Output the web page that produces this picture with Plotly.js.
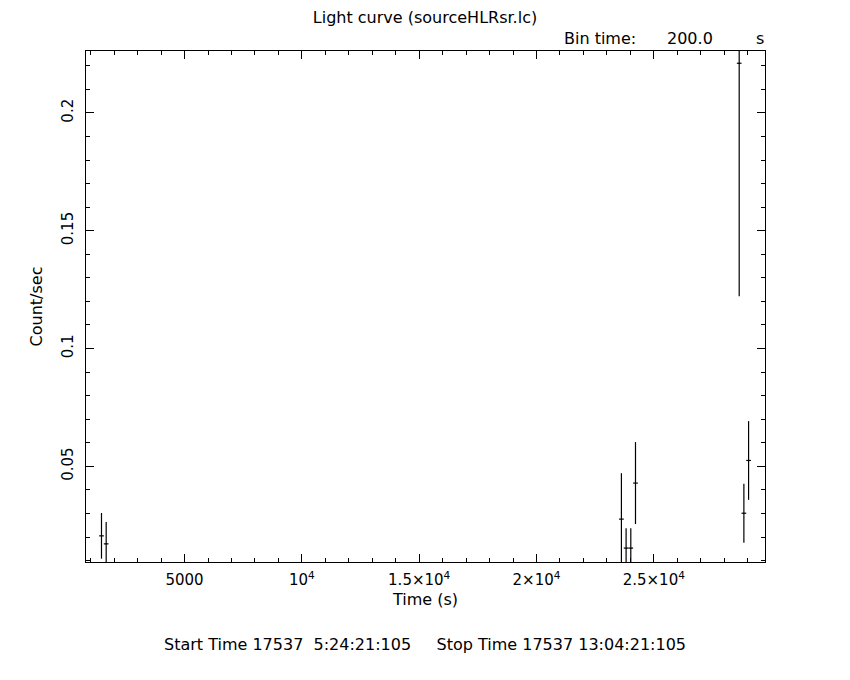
<!DOCTYPE html>
<html>
<head>
<meta charset="utf-8">
<script src="https://cdn.plot.ly/plotly-3.0.1.min.js"></script>
<style>body{margin:0;padding:0;background:#fff;}#chart{width:850px;height:680px;}</style>
</head>
<body>
<div id="chart"></div>
<script>
// Data (200 s bins)
var timeSec   = [1460, 1660, 23620, 23820, 24020, 24220, 28640, 28840, 29040];
var countRate = [0.0205, 0.0171, 0.0276, 0.0153, 0.0153, 0.0429, 0.2211, 0.0301, 0.0525];
var rateErr   = [0.0097, 0.0093, 0.0195, 0.0084, 0.0084, 0.0174, 0.0989, 0.0125, 0.0167];
var halfBin   = [100, 100, 100, 100, 100, 100, 100, 100, 100];

var xTickVals = [5000, 10000, 15000, 20000, 25000];
var xTickText = ['5000', '10<sup>4</sup>', '1.5×10<sup>4</sup>', '2×10<sup>4</sup>', '2.5×10<sup>4</sup>'];
var yTickVals = [0.05, 0.1, 0.15, 0.2];
var yTickText = ['0.05', '0.1', '0.15', '0.2'];

var FONT = 'DejaVu Sans, Liberation Sans, sans-serif';
var NB = '\u00a0';

var trace = {
  x: timeSec, y: countRate, type: 'scatter', mode: 'markers',
  marker: {size: 1, color: '#000'},
  error_y: {type: 'data', array: rateErr, visible: true, color: '#000', thickness: 1.2, width: 0},
  error_x: {type: 'data', array: halfBin, visible: true, color: '#000', thickness: 1.2, width: 0},
  cliponaxis: true, hoverinfo: 'none'
};

var axisCommon = {
  showgrid: false, zeroline: false, showline: true, linecolor: '#000', linewidth: 1,
  mirror: 'allticks', ticks: 'inside', ticklen: 8, tickwidth: 1, tickcolor: '#000',
  tickfont: {family: FONT, size: 15, color: '#000'}
};

var layout = {
  width: 850, height: 680,
  margin: {l: 86, r: 85, t: 51, b: 118},
  paper_bgcolor: '#fff', plot_bgcolor: '#fff',
  showlegend: false,
  font: {family: FONT, size: 16, color: '#000'},
  title: {text: 'Light curve (sourceHLRsr.lc)', x: 0.5, xanchor: 'center', y: 0.975, yanchor: 'middle',
          font: {family: FONT, size: 16, color: '#000'}},
  xaxis: Object.assign({}, axisCommon, {
    range: [800, 29740], tickmode: 'array', tickvals: xTickVals, ticktext: xTickText,
    minor: {dtick: 1000, tick0: 0, ticks: 'inside', ticklen: 4, tickcolor: '#000', tickwidth: 1},
    ticklabelstandoff: 4,
    title: {text: 'Time (s)', font: {family: FONT, size: 16, color: '#000'}, standoff: 5}
  }),
  yaxis: Object.assign({}, axisCommon, {
    range: [0.0094, 0.2263], tickmode: 'array', tickvals: yTickVals, ticktext: yTickText,
    tickangle: -90,
    minor: {dtick: 0.01, tick0: 0, ticks: 'inside', ticklen: 4, tickcolor: '#000', tickwidth: 1},
    ticklabelstandoff: 6,
    title: {text: 'Count/sec', font: {family: FONT, size: 16, color: '#000'}, standoff: 12}
  }),
  annotations: [
    {text: 'Bin time:', xref: 'paper', yref: 'paper', x: 0.701, y: 1.0254, xanchor: 'left', yanchor: 'middle', showarrow: false, font: {family: FONT, size: 16, color: '#000'}},
    {text: '200.0', xref: 'paper', yref: 'paper', x: 0.8895, y: 1.0254, xanchor: 'center', yanchor: 'middle', showarrow: false, font: {family: FONT, size: 16, color: '#000'}},
    {text: 's', xref: 'paper', yref: 'paper', x: 0.9926, y: 1.0254, xanchor: 'center', yanchor: 'middle', showarrow: false, font: {family: FONT, size: 16, color: '#000'}},
    {text: 'Start Time 17537' + NB + NB + '5:24:21:105' + NB + NB + NB + NB + NB + 'Stop Time 17537 13:04:21:105', xref: 'paper', yref: 'paper', x: 0.4993, y: -0.162, xanchor: 'center', yanchor: 'middle', showarrow: false, font: {family: FONT, size: 16, color: '#000'}}
  ]
};

Plotly.newPlot('chart', [trace], layout, {displayModeBar: false, staticPlot: true});
</script>
</body>
</html>
